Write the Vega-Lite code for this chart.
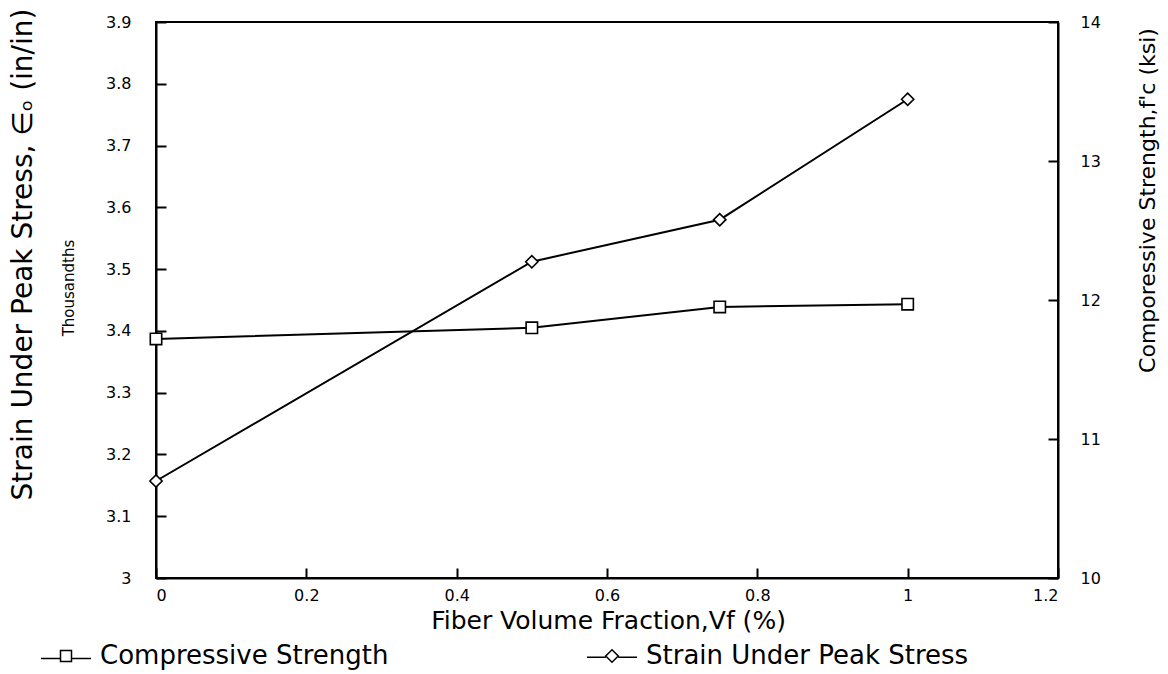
{
  "$schema": "https://vega.github.io/schema/vega-lite/v6.json",
  "width": 902,
  "height": 556,
  "autosize": "none",
  "padding": {"left": 156, "top": 22, "right": 110, "bottom": 96},
  "background": "white",
  "config": {
    "font": "DejaVu Sans",
    "view": {"stroke": "black", "strokeWidth": 2},
    "axis": {
      "grid": false,
      "domainColor": "black",
      "domainWidth": 2,
      "tickColor": "black",
      "tickWidth": 2,
      "tickSize": -10,
      "labelColor": "black",
      "labelFont": "DejaVu Sans",
      "labelFontSize": 16,
      "titleColor": "black",
      "titleFont": "DejaVu Sans",
      "titleFontWeight": "normal"
    },
    "legend": {
      "labelFont": "DejaVu Sans",
      "labelColor": "black"
    }
  },
  "title": {
    "text": "Thousandths",
    "orient": "left",
    "anchor": "middle",
    "font": "DejaVu Sans",
    "fontSize": 15,
    "fontWeight": "normal",
    "color": "black",
    "offset": -68,
    "dx": 12
  },
  "data": {
    "values": [
      {"vf": 0, "series": "Compressive Strength", "val": 11.72},
      {"vf": 0.5, "series": "Compressive Strength", "val": 11.8},
      {"vf": 0.75, "series": "Compressive Strength", "val": 11.95},
      {"vf": 1, "series": "Compressive Strength", "val": 11.97},
      {"vf": 0, "series": "Strain Under Peak Stress", "val": 3.157},
      {"vf": 0.5, "series": "Strain Under Peak Stress", "val": 3.512},
      {"vf": 0.75, "series": "Strain Under Peak Stress", "val": 3.58},
      {"vf": 1, "series": "Strain Under Peak Stress", "val": 3.775}
    ]
  },
  "layer": [
    {
      "transform": [{"filter": "datum.series === 'Strain Under Peak Stress'"}],
      "encoding": {
        "x": {
          "field": "vf", "type": "quantitative",
          "scale": {"domain": [0, 1.2], "nice": false, "zero": false},
          "axis": {
            "values": [0, 0.2, 0.4, 0.6, 0.8, 1, 1.2],
            "format": "~g",
            "title": "Fiber Volume Fraction,Vf (%)",
            "titleFontSize": 25,
            "titleX": 452,
            "titleY": 42,
            "titleAlign": "center",
            "titleBaseline": "middle",
            "labelPadding": 19
          }
        },
        "y": {
          "field": "val", "type": "quantitative",
          "scale": {"domain": [3, 3.9], "nice": false, "zero": false},
          "axis": {
            "orient": "left",
            "values": [3, 3.1, 3.2, 3.3, 3.4, 3.5, 3.6, 3.7, 3.8, 3.9],
            "format": "~g",
            "title": "Strain Under Peak Stress, ∈ₒ (in/in)",
            "titleFontSize": 28,
            "titleAngle": -90,
            "titleX": -133,
            "titleY": 232,
            "titleAlign": "center",
            "titleBaseline": "middle",
            "labelPadding": 35
          }
        }
      },
      "layer": [
        {"mark": {"type": "line", "color": "black", "strokeWidth": 2}},
        {"mark": {"type": "point", "shape": "diamond", "filled": true, "fill": "white", "stroke": "black", "strokeWidth": 1.6, "size": 150, "opacity": 1}}
      ]
    },
    {
      "transform": [{"filter": "datum.series === 'Compressive Strength'"}],
      "encoding": {
        "x": {
          "field": "vf", "type": "quantitative",
          "scale": {"domain": [0, 1.2], "nice": false, "zero": false},
          "axis": {
            "values": [0, 0.2, 0.4, 0.6, 0.8, 1, 1.2],
            "format": "~g",
            "title": "Fiber Volume Fraction,Vf (%)",
            "titleFontSize": 25,
            "titleX": 452,
            "titleY": 42,
            "titleAlign": "center",
            "titleBaseline": "middle",
            "labelPadding": 19
          }
        },
        "y": {
          "field": "val", "type": "quantitative",
          "scale": {"domain": [10, 14], "nice": false, "zero": false},
          "axis": {
            "orient": "right",
            "values": [10, 11, 12, 13, 14],
            "format": "d",
            "title": "Comporessive Strength,f'c (ksi)",
            "titleFontSize": 22,
            "titleAngle": -90,
            "titleX": 89,
            "titleY": 178,
            "titleAlign": "center",
            "titleBaseline": "middle",
            "labelPadding": 32
          }
        }
      },
      "layer": [
        {"mark": {"type": "line", "color": "black", "strokeWidth": 2}},
        {"mark": {"type": "point", "shape": "square", "filled": true, "fill": "white", "stroke": "black", "strokeWidth": 1.6, "size": 130, "opacity": 1}}
      ]
    },
    {
      "transform": [{"filter": "datum.vf < 0"}],
      "mark": {"type": "point", "filled": true, "fill": "white", "stroke": "black", "strokeWidth": 1.6, "opacity": 1},
      "encoding": {
        "shape": {
          "field": "series", "type": "nominal",
          "scale": {
            "domain": ["Compressive Strength", "Strain Under Peak Stress"],
            "range": [
              "M-1,0.1H-0.22M0.22,0.1H1M-0.22,-0.22H0.22V0.22H-0.22Z",
              "M-1,0.05H-0.25M0.25,0.05H1M0,-0.25L0.25,0L0,0.25L-0.25,0Z"
            ]
          },
          "legend": {
            "title": null,
            "orient": "none",
            "direction": "horizontal",
            "legendX": -116,
            "legendY": 608,
            "padding": 0,
            "symbolSize": 2500,
            "labelFontSize": 26,
            "labelOffset": 8,
            "labelLimit": 0,
            "columnPadding": 195,
            "encode": {
              "symbols": {
                "update": {
                  "fill": {"value": "white"},
                  "stroke": {"value": "black"},
                  "strokeWidth": {"value": 1.6},
                  "opacity": {"value": 1},
                  "fillOpacity": {"value": 1},
                  "strokeOpacity": {"value": 1}
                }
              }
            }
          }
        }
      }
    }
  ],
  "resolve": {"scale": {"y": "independent"}}
}
